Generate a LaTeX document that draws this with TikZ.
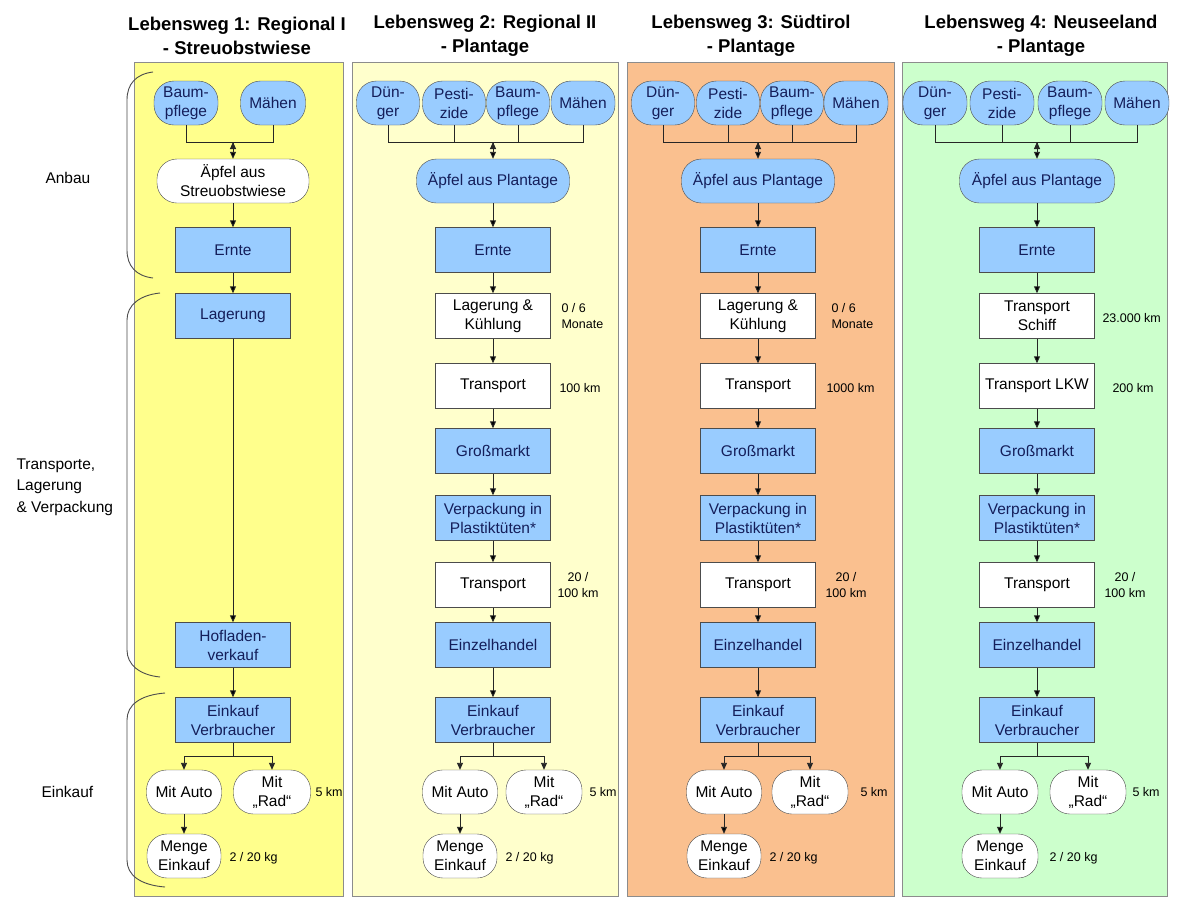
\documentclass[tikz,border=0pt]{standalone}
\usepackage{fontspec}
\setmainfont{Liberation Sans}
\usetikzlibrary{arrows.meta,positioning}

\definecolor{wayone}{RGB}{255,255,140}
\definecolor{waytwo}{RGB}{255,255,204}
\definecolor{waythree}{RGB}{250,192,143}
\definecolor{wayfour}{RGB}{204,255,204}
\definecolor{stepblue}{RGB}{153,204,255}
\definecolor{stepink}{RGB}{20,30,90}

\tikzset{
	panel/.style={draw=black!45,line width=0.8pt},
	waytitle/.style={font=\fontsize{18.5}{24}\selectfont\bfseries,align=center},
	phasetext/.style={font=\fontsize{15.5}{21.5}\selectfont,align=left,anchor=west},
	phasebrace/.style={draw=black!70,line width=0.9pt},
	blueterm/.style={rectangle,rounded corners=20pt,draw=black!70,fill=stepblue,text=stepink,
		align=center,inner sep=0pt,minimum height=44pt,font=\fontsize{15.5}{19}\selectfont},
	whiteterm/.style={blueterm,fill=white,text=black},
	bluestep/.style={rectangle,draw=black!70,fill=stepblue,text=stepink,align=center,
		inner sep=0pt,minimum width=115pt,minimum height=45pt,font=\fontsize{15.5}{19}\selectfont},
	whitestep/.style={bluestep,fill=white,text=black},
	note/.style={font=\fontsize{12.5}{16}\selectfont,align=left,anchor=west},
	flow/.style={draw=black!85,line width=0.9pt},
	>={Triangle[length=7pt,width=6pt]}
}

\begin{document}
\begin{tikzpicture}[x=1pt,y=-1pt]
	\useasboundingbox (0,0) rectangle (1178,898);
	\fill[white] (0,0) rectangle (1178,898);

	%% panels and titles
	\draw[panel,fill=wayone] (134,62) rectangle (343,896);
	\draw[panel,fill=waytwo] (352,62) rectangle (618,896);
	\draw[panel,fill=waythree] (627,62) rectangle (894,896);
	\draw[panel,fill=wayfour] (902,62) rectangle (1167,896);
	\node[waytitle] (t1) at (237,36) {Lebensweg 1: Regional I\\- Streuobstwiese};
	\node[waytitle] (t2) at (485,36) {Lebensweg 2: Regional II\\- Plantage};
	\node[waytitle] (t3) at (751,36) {Lebensweg 3: Südtirol\\- Plantage};
	\node[waytitle] (t4) at (1041,36) {Lebensweg 4: Neuseeland\\- Plantage};

	%% phases on the left
	\node[phasetext] (anbau) at (42,178) {Anbau};
	\node[phasetext] (transp) at (13,487) {Transporte,\\Lagerung\\\& Verpackung};
	\node[phasetext] (einkauf) at (38,792) {Einkauf};
	\draw[phasebrace] (153,72) .. controls (136,74) and (127,84) .. (127,100) -- (127,250)
		.. controls (127,266) and (136,276) .. (153,278);
	\draw[phasebrace] (160,293) .. controls (140,295) and (127,305) .. (127,320) -- (127,650)
		.. controls (127,665) and (140,675) .. (160,677);
	\draw[phasebrace] (165,693) .. controls (140,695) and (127,705) .. (127,720) -- (127,860)
		.. controls (127,875) and (140,885) .. (165,887);

	%% Lebensweg 1
	\node[blueterm,minimum width=64pt] (bp1) at (186,103) {Baum-\\pflege};
	\node[blueterm,minimum width=65pt] (mh1) at (273,103) {Mähen};
	\coordinate (j1) at (233,142);
	\node[whiteterm,minimum width=152pt] (ap1) at (233,181) {Äpfel aus\\Streuobstwiese};
	\node[bluestep] (er1) at (233,250) {Ernte};
	\node[bluestep] (lg1) at (233,316) {Lagerung};
	\node[bluestep] (hv1) at (233,645) {Hofladen-\\verkauf};
	\node[bluestep] (ev1) at (233,720) {Einkauf\\Verbraucher};
	\node[whiteterm,minimum width=75pt] (au1) at (184,792) {Mit Auto};
	\node[whiteterm,minimum width=77pt] (rd1) at (272,792) {Mit\\„Rad“};
	\node[note] (km1) at (312,792) {5 km};
	\node[whiteterm,minimum width=74pt] (me1) at (184,856) {Menge\\Einkauf};
	\node[note] (kg1) at (226,858) {2 / 20 kg};
	\draw[flow] (bp1.south) |- (j1);
	\draw[flow] (mh1.south) |- (j1);
	\path[flow,->]
		(j1) edge (ap1)
		(ap1) edge (er1)
		(er1) edge (lg1)
		(lg1) edge (hv1)
		(hv1) edge (ev1)
		(au1) edge (me1);
	\draw[flow,->] (ev1.south) -- ++(0,14) -| (au1.north);
	\draw[flow,->] (ev1.south) -- ++(0,14) -| (rd1.north);

	%% Lebensweg 2
	\node[blueterm,minimum width=63pt] (dg2) at (388,103) {Dün-\\ger};
	\node[blueterm,minimum width=63pt] (pz2) at (454,103) {Pesti-\\zide};
	\node[blueterm,minimum width=63pt] (bp2) at (518,103) {Baum-\\pflege};
	\node[blueterm,minimum width=64pt] (mh2) at (583,103) {Mähen};
	\coordinate (j2) at (493,142);
	\node[blueterm,minimum width=153pt] (ap2) at (493,181) {Äpfel aus Plantage};
	\node[bluestep] (er2) at (493,250) {Ernte};
	\node[whitestep] (lk2) at (493,316) {Lagerung \&\\Kühlung};
	\node[note] (mo2) at (558,316) {0 / 6\\Monate};
	\node[whitestep] (tr2) at (493,386) {Transport};
	\node[note] (kma2) at (556,388) {100 km};
	\node[bluestep] (gm2) at (493,451) {Großmarkt};
	\node[bluestep] (vp2) at (493,518) {Verpackung in\\Plastiktüten*};
	\node[whitestep] (tt2) at (493,585) {Transport};
	\node[note,anchor=center,align=center] (kmb2) at (578,585) {20 /\\100 km};
	\node[bluestep] (eh2) at (493,645) {Einzelhandel};
	\node[bluestep] (ev2) at (493,720) {Einkauf\\Verbraucher};
	\node[whiteterm,minimum width=75pt] (au2) at (460,792) {Mit Auto};
	\node[whiteterm,minimum width=76pt] (rd2) at (544,792) {Mit\\„Rad“};
	\node[note] (km2) at (586,792) {5 km};
	\node[whiteterm,minimum width=74pt] (me2) at (460,856) {Menge\\Einkauf};
	\node[note] (kg2) at (502,858) {2 / 20 kg};
	\draw[flow] (dg2.south) |- (j2);
	\draw[flow] (pz2.south) |- (j2);
	\draw[flow] (bp2.south) |- (j2);
	\draw[flow] (mh2.south) |- (j2);
	\path[flow,->]
		(j2) edge (ap2)
		(ap2) edge (er2)
		(er2) edge (lk2)
		(lk2) edge (tr2)
		(tr2) edge (gm2)
		(gm2) edge (vp2)
		(vp2) edge (tt2)
		(tt2) edge (eh2)
		(eh2) edge (ev2)
		(au2) edge (me2);
	\draw[flow,->] (ev2.south) -- ++(0,14) -| (au2.north);
	\draw[flow,->] (ev2.south) -- ++(0,14) -| (rd2.north);

	%% Lebensweg 3
	\node[blueterm,minimum width=63pt] (dg3) at (663,103) {Dün-\\ger};
	\node[blueterm,minimum width=63pt] (pz3) at (728,103) {Pesti-\\zide};
	\node[blueterm,minimum width=63pt] (bp3) at (792,103) {Baum-\\pflege};
	\node[blueterm,minimum width=64pt] (mh3) at (856,103) {Mähen};
	\coordinate (j3) at (758,142);
	\node[blueterm,minimum width=153pt] (ap3) at (758,181) {Äpfel aus Plantage};
	\node[bluestep] (er3) at (758,250) {Ernte};
	\node[whitestep] (lk3) at (758,316) {Lagerung \&\\Kühlung};
	\node[note] (mo3) at (828,316) {0 / 6\\Monate};
	\node[whitestep] (tr3) at (758,386) {Transport};
	\node[note] (kma3) at (823,388) {1000 km};
	\node[bluestep] (gm3) at (758,451) {Großmarkt};
	\node[bluestep] (vp3) at (758,518) {Verpackung in\\Plastiktüten*};
	\node[whitestep] (tt3) at (758,585) {Transport};
	\node[note,anchor=center,align=center] (kmb3) at (846,585) {20 /\\100 km};
	\node[bluestep] (eh3) at (758,645) {Einzelhandel};
	\node[bluestep] (ev3) at (758,720) {Einkauf\\Verbraucher};
	\node[whiteterm,minimum width=75pt] (au3) at (724,792) {Mit Auto};
	\node[whiteterm,minimum width=76pt] (rd3) at (810,792) {Mit\\„Rad“};
	\node[note] (km3) at (857,792) {5 km};
	\node[whiteterm,minimum width=74pt] (me3) at (724,856) {Menge\\Einkauf};
	\node[note] (kg3) at (766,858) {2 / 20 kg};
	\draw[flow] (dg3.south) |- (j3);
	\draw[flow] (pz3.south) |- (j3);
	\draw[flow] (bp3.south) |- (j3);
	\draw[flow] (mh3.south) |- (j3);
	\path[flow,->]
		(j3) edge (ap3)
		(ap3) edge (er3)
		(er3) edge (lk3)
		(lk3) edge (tr3)
		(tr3) edge (gm3)
		(gm3) edge (vp3)
		(vp3) edge (tt3)
		(tt3) edge (eh3)
		(eh3) edge (ev3)
		(au3) edge (me3);
	\draw[flow,->] (ev3.south) -- ++(0,14) -| (au3.north);
	\draw[flow,->] (ev3.south) -- ++(0,14) -| (rd3.north);

	%% Lebensweg 4
	\node[blueterm,minimum width=64pt] (dg4) at (935,103) {Dün-\\ger};
	\node[blueterm,minimum width=64pt] (pz4) at (1002,103) {Pesti-\\zide};
	\node[blueterm,minimum width=64pt] (bp4) at (1070,103) {Baum-\\pflege};
	\node[blueterm,minimum width=64pt] (mh4) at (1137,103) {Mähen};
	\coordinate (j4) at (1037,142);
	\node[blueterm,minimum width=155pt] (ap4) at (1037,181) {Äpfel aus Plantage};
	\node[bluestep] (er4) at (1037,250) {Ernte};
	\node[whitestep] (ts4) at (1037,316) {Transport\\Schiff};
	\node[note] (kma4) at (1099,318) {23.000 km};
	\node[whitestep] (tl4) at (1037,386) {Transport LKW};
	\node[note] (kmb4) at (1109,388) {200 km};
	\node[bluestep] (gm4) at (1037,451) {Großmarkt};
	\node[bluestep] (vp4) at (1037,518) {Verpackung in\\Plastiktüten*};
	\node[whitestep] (tt4) at (1037,585) {Transport};
	\node[note,anchor=center,align=center] (kmc4) at (1125,585) {20 /\\100 km};
	\node[bluestep] (eh4) at (1037,645) {Einzelhandel};
	\node[bluestep] (ev4) at (1037,720) {Einkauf\\Verbraucher};
	\node[whiteterm,minimum width=76pt] (au4) at (1000,792) {Mit Auto};
	\node[whiteterm,minimum width=76pt] (rd4) at (1088,792) {Mit\\„Rad“};
	\node[note] (km4) at (1129,792) {5 km};
	\node[whiteterm,minimum width=76pt] (me4) at (1000,856) {Menge\\Einkauf};
	\node[note] (kg4) at (1046,858) {2 / 20 kg};
	\draw[flow] (dg4.south) |- (j4);
	\draw[flow] (pz4.south) |- (j4);
	\draw[flow] (bp4.south) |- (j4);
	\draw[flow] (mh4.south) |- (j4);
	\path[flow,->]
		(j4) edge (ap4)
		(ap4) edge (er4)
		(er4) edge (ts4)
		(ts4) edge (tl4)
		(tl4) edge (gm4)
		(gm4) edge (vp4)
		(vp4) edge (tt4)
		(tt4) edge (eh4)
		(eh4) edge (ev4)
		(au4) edge (me4);
	\draw[flow,->] (ev4.south) -- ++(0,14) -| (au4.north);
	\draw[flow,->] (ev4.south) -- ++(0,14) -| (rd4.north);
\end{tikzpicture}
\end{document}
